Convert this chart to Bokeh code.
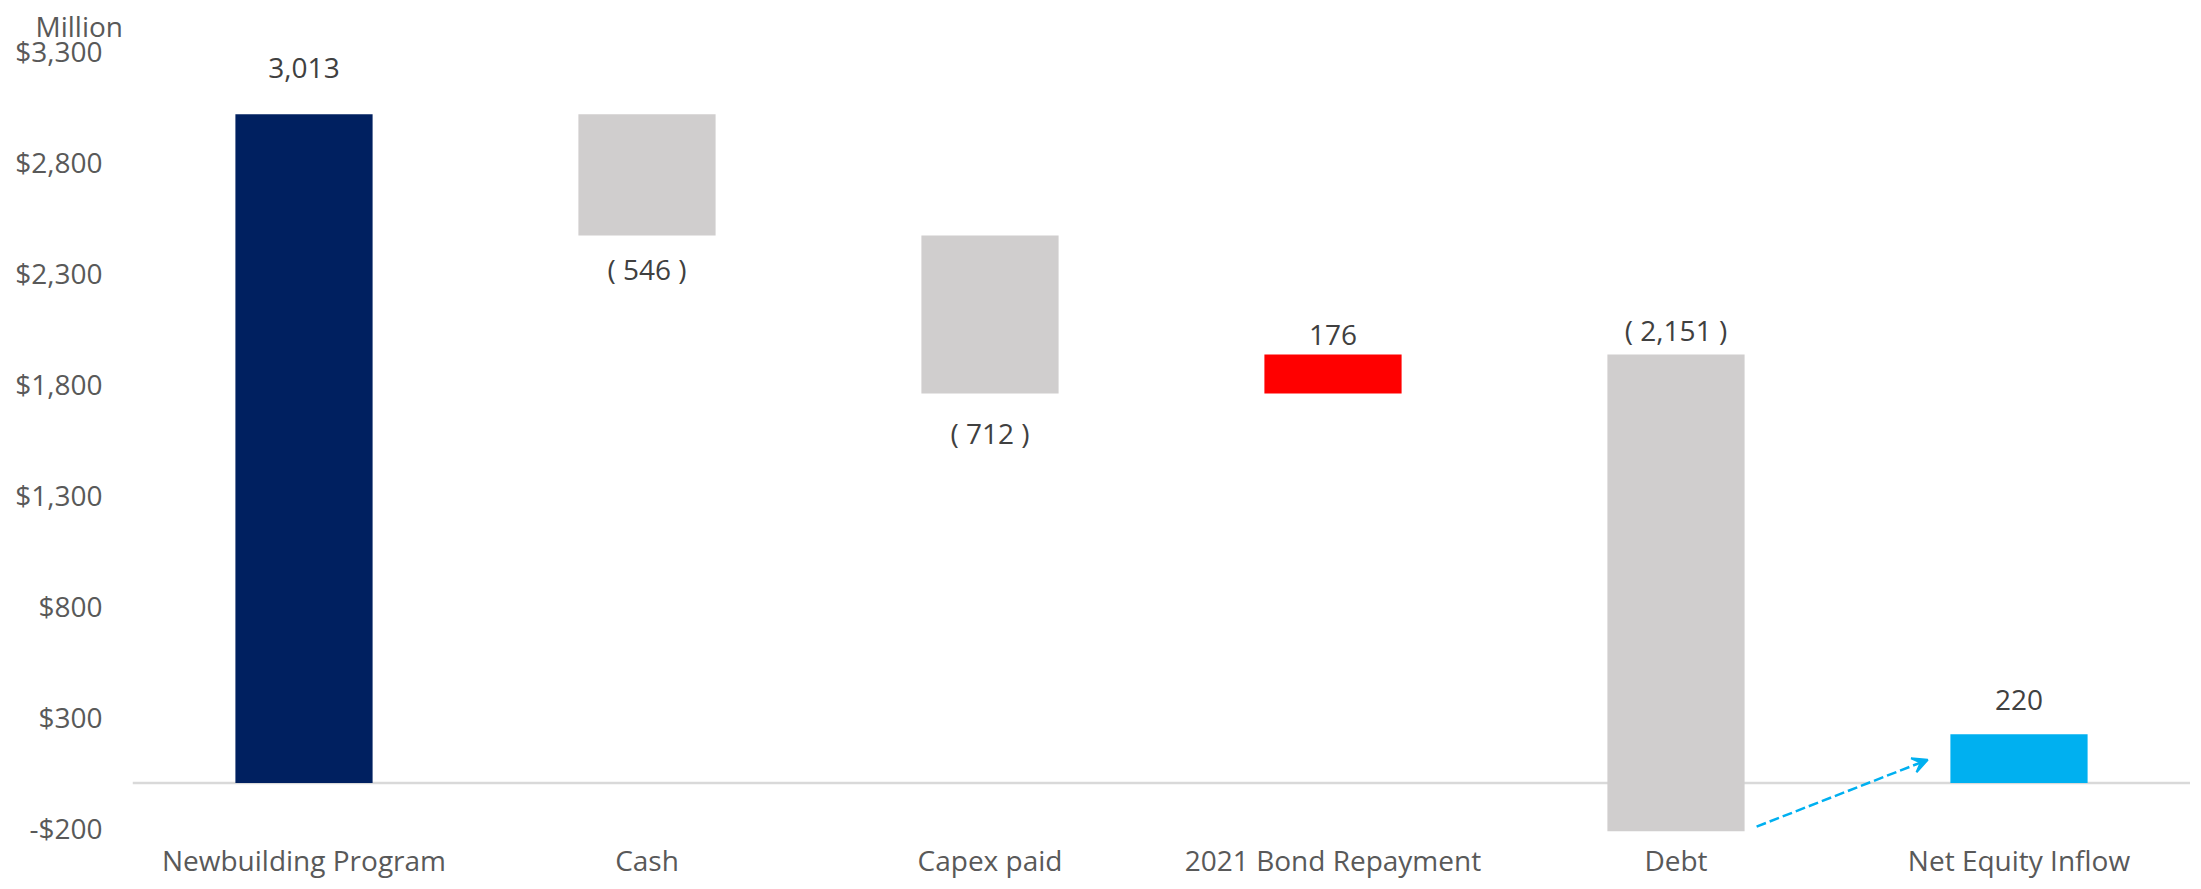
from bokeh.plotting import figure
from bokeh.models import (ColumnDataSource, Range1d, FixedTicker, Span,
                          Arrow, VeeHead)
from bokeh.core.properties import value
from bokeh.embed import file_html
from bokeh.resources import INLINE

# ---- data ----
categories = ["Newbuilding Program", "Cash", "Capex paid",
              "2021 Bond Repayment", "Debt", "Net Equity Inflow"]
amounts = [3013, -546, -712, 176, -2151, 220]
kinds = ["total", "delta", "delta", "delta", "delta", "total"]
bar_colors = ["#002060", "#D0CECE", "#D0CECE", "#FF0000", "#D0CECE", "#00B0F0"]
y_ticks = [-200, 300, 800, 1300, 1800, 2300, 2800, 3300]
y_tick_labels = ["-$200", "$300", "$800", "$1,300", "$1,800", "$2,300", "$2,800", "$3,300"]
unit_label = "Million"

# label placement: anchor edge and pixel offset of the text
label_anchor = ["top", "bottom", "bottom", "top", "top", "top"]
label_offset = [-46, 34, 40, -19.5, -24, -34.5]

FONT = "Open Sans"

# ---- waterfall geometry ----
xs, bottoms, tops, label_y, label_txt = [], [], [], [], []
running = 0
for i, (amt, kind) in enumerate(zip(amounts, kinds)):
    if kind == "total":
        b, t = 0, amt
        running = amt
    else:
        start = running
        running = running + amt
        b, t = min(start, running), max(start, running)
    xs.append(i + 0.5)
    bottoms.append(b)
    tops.append(t)
    label_y.append(t if label_anchor[i] == "top" else b)
    label_txt.append(f"{amt:,}" if amt >= 0 else f"( {abs(amt):,} )")

src = ColumnDataSource(dict(x=xs, bottom=bottoms, top=tops, color=bar_colors,
                            ly=label_y, txt=label_txt, off=label_offset))

p = figure(width=2190, height=881, output_backend="svg", toolbar_location=None,
           x_range=Range1d(0, len(categories)), y_range=Range1d(-218, 3300),
           min_border_left=132, min_border_right=0, min_border_top=50,
           min_border_bottom=47)
p.outline_line_color = None
p.background_fill_color = "white"
p.border_fill_color = "white"
p.grid.visible = False

p.title.text = unit_label
p.title.align = "left"
p.title.vertical_align = "top"
p.title.offset = -97
p.title.standoff = 8
p.title.text_font = FONT
p.title.text_font_size = "28px"
p.title.text_font_style = "normal"
p.title.text_color = "#595959"

p.vbar(x="x", bottom="bottom", top="top", width=0.4, color="color",
       line_color=None, source=src)

p.add_layout(Span(location=0, dimension="width", line_color="#D9D9D9",
                  line_width=2.5, level="underlay"))

p.text(x="x", y="ly", text="txt", y_offset="off", source=src,
       text_font=value(FONT), text_font_size="28px", text_color="#404040",
       text_align="center", text_baseline="alphabetic")

# axes
p.xaxis.ticker = FixedTicker(ticks=xs)
p.xaxis.major_label_overrides = {x: c for x, c in zip(xs, categories)}
p.yaxis.ticker = FixedTicker(ticks=y_ticks)
p.yaxis.major_label_overrides = {t: l for t, l in zip(y_ticks, y_tick_labels)}
for ax in (p.xaxis, p.yaxis):
    ax.axis_line_color = None
    ax.major_tick_line_color = None
    ax.minor_tick_line_color = None
    ax.major_tick_out = 0
    ax.major_tick_in = 0
    ax.major_label_text_font = FONT
    ax.major_label_text_font_size = "28px"
    ax.major_label_text_color = "#595959"
p.yaxis.major_label_standoff = 30
p.xaxis.major_label_standoff = 9

p.add_layout(Arrow(x_start=4.735, y_start=-196, x_end=5.234, y_end=105,
                   line_color="#00B0F0", line_width=2.5, line_dash="10 4",
                   end=VeeHead(size=15, line_color="#00B0F0", line_width=2,
                               fill_color="#00B0F0")))

open("out.html", "w").write(file_html(p, INLINE))
